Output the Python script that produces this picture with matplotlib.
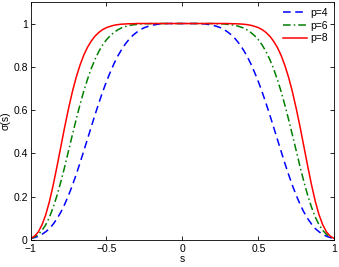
import matplotlib
matplotlib.use("Agg")
import matplotlib.pyplot as plt

plt.rcParams['font.family'] = ['Liberation Sans', 'DejaVu Sans']

s = [-1.0, -0.975, -0.95, -0.925, -0.9, -0.875, -0.85, -0.825, -0.8, -0.775,
     -0.75, -0.725, -0.7, -0.675, -0.65, -0.625, -0.6, -0.575, -0.55, -0.525,
     -0.5, -0.475, -0.45, -0.425, -0.4, -0.375, -0.35, -0.325, -0.3, -0.275,
     -0.25, -0.225, -0.2, -0.175, -0.15, -0.125, -0.1, -0.075, -0.05, -0.025,
     0.0,
     0.025, 0.05, 0.075, 0.1, 0.125, 0.15, 0.175, 0.2, 0.225, 0.25,
     0.275, 0.3, 0.325, 0.35, 0.375, 0.4, 0.425, 0.45, 0.475, 0.5,
     0.525, 0.55, 0.575, 0.6, 0.625, 0.65, 0.675, 0.7, 0.725, 0.75,
     0.775, 0.8, 0.825, 0.85, 0.875, 0.9, 0.925, 0.95, 0.975, 1.0]

# values from s=-1 up to s=0 (curves are symmetric about s=0)
half_p4 = [0.007, 0.011, 0.017, 0.026, 0.038, 0.053, 0.074, 0.099, 0.129, 0.165,
           0.206, 0.251, 0.301, 0.354, 0.410, 0.466, 0.523, 0.579, 0.633, 0.684,
           0.732, 0.775, 0.815, 0.850, 0.880, 0.906, 0.928, 0.946, 0.960, 0.972,
           0.981, 0.987, 0.992, 0.995, 0.998, 0.999, 1.0, 1.0, 1.0, 1.0, 1.0]
half_p6 = [0.007, 0.014, 0.025, 0.044, 0.070, 0.106, 0.152, 0.207, 0.270, 0.338,
           0.411, 0.484, 0.555, 0.623, 0.686, 0.742, 0.792, 0.835, 0.871, 0.901,
           0.925, 0.944, 0.959, 0.971, 0.980, 0.986, 0.991, 0.994, 0.996, 0.998,
           0.999, 0.999, 1.0, 1.0, 1.0, 1.0, 1.0, 1.0, 1.0, 1.0, 1.0]
half_p8 = [0.007, 0.017, 0.036, 0.069, 0.116, 0.179, 0.256, 0.342, 0.432, 0.522,
           0.606, 0.683, 0.750, 0.806, 0.853, 0.890, 0.919, 0.942, 0.959, 0.972,
           0.981, 0.987, 0.992, 0.995, 0.997, 0.998, 0.999, 0.999, 1.0, 1.0,
           1.0, 1.0, 1.0, 1.0, 1.0, 1.0, 1.0, 1.0, 1.0, 1.0, 1.0]

sigma_p4 = half_p4 + half_p4[-2::-1]
sigma_p6 = half_p6 + half_p6[-2::-1]
sigma_p8 = half_p8 + half_p8[-2::-1]

labels = ['p=4', 'p=6', 'p=8']
xticks = [-1, -0.5, 0, 0.5, 1]
xticklabels = ['\u22121', '\u22120.5', '0', '0.5', '1']
yticks = [0, 0.2, 0.4, 0.6, 0.8, 1]
yticklabels = ['0', '0.2', '0.4', '0.6', '0.8', '1']

fig = plt.figure(figsize=(3.39, 2.67), dpi=100)
ax = fig.add_axes([0.09, 0.101, 0.896, 0.892])

l1, = ax.plot(s, sigma_p4, color=(0, 0, 1), lw=1.1, label=labels[0])
l1.set_dashes([5, 3])
l2, = ax.plot(s, sigma_p6, color=(0, 0.5, 0), lw=1.1, label=labels[1])
l2.set_dashes([5, 2, 1, 2])
l3, = ax.plot(s, sigma_p8, color=(1, 0, 0), lw=1.1, label=labels[2])

ax.set_xlim(-1, 1)
ax.set_ylim(0, 1.1)
ax.set_xticks(xticks)
ax.set_xticklabels(xticklabels)
ax.set_yticks(yticks)
ax.set_yticklabels(yticklabels)
ax.tick_params(direction='in', top=True, right=True, labelsize=7.5, length=3,
               width=0.6)
ax.tick_params(axis='x', pad=3)
ax.tick_params(axis='y', pad=2)
for sp in ax.spines.values():
    sp.set_linewidth(0.6)
ax.set_xlabel('s', fontsize=7.5, labelpad=0)
ax.set_ylabel('\u03c3(s)', fontsize=7.5, labelpad=2)

leg = ax.legend(loc='upper right', frameon=False, fontsize=7.5, handlelength=2.3,
                handletextpad=0.3, labelspacing=0.25, borderaxespad=0.2)

fig.savefig('out.png', dpi=100)
